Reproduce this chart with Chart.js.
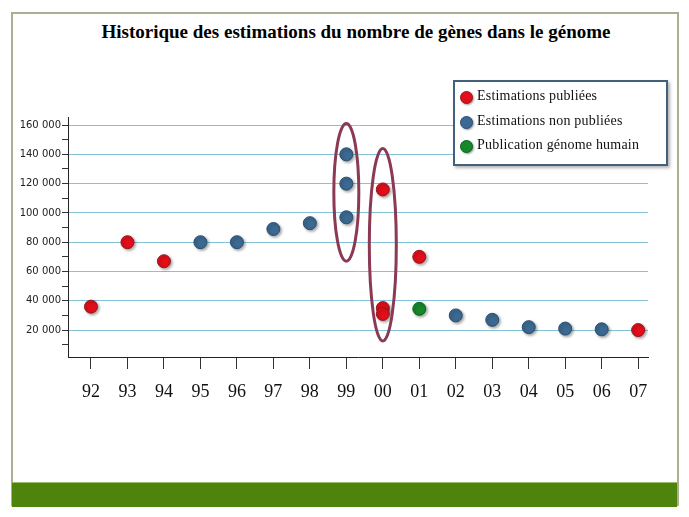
<!DOCTYPE html>
<html lang="fr">
<head>
<meta charset="utf-8">
<title>Historique des estimations</title>
<script src="https://cdn.jsdelivr.net/npm/chart.js@4.4.1/dist/chart.umd.min.js"></script>
<style>
  html, body { margin: 0; padding: 0; background: #fff; }
  #page { position: relative; width: 689px; height: 517px; overflow: hidden; }
  #frame { position: absolute; left: 11px; top: 12px; width: 664px; height: 492px;
           border: 2px solid #aab08f; border-bottom: none; }
  #bande { position: absolute; left: 12px; top: 482px; width: 665px; height: 24px;
           background: #4f840c; border-top: 1px solid #9cbc6a; }
  #titre { position: absolute; left: 40px; top: 21px; width: 632px; text-align: center;
           font: bold 19px "Liberation Serif", "Times New Roman", serif; color: #000; }
  canvas { position: absolute; left: 0; top: 0; }
  #legende { position: absolute; left: 453px; top: 80px; width: 211px; height: 82px;
             border: 2px solid #44617b; background: #fff;
             box-shadow: 2px 2px 3px rgba(0,0,0,0.3); }
  .item { position: absolute; left: 22px; font: 14px "Liberation Serif", serif; color: #111;
          letter-spacing: 0.2px; white-space: nowrap; }
  .puce { position: absolute; left: -17px; top: 3px; width: 11px; height: 11px; border-radius: 50%;
          border: 1px solid; box-shadow: 1px 1px 2px rgba(0,0,0,0.4); }
</style>
</head>
<body>
<div id="page">
  <div id="frame"></div>
  <div id="bande"></div>
  <div id="titre">Historique des estimations du nombre de gènes dans le génome</div>
  <canvas id="graphe" width="689" height="517"></canvas>
  <div id="legende"></div>
</div>
<script>
// années affichées sur l'axe horizontal
const annees = ['92','93','94','95','96','97','98','99','00','01','02','03','04','05','06','07'];

// estimations publiées (rouge)
const publieesAnnees = ['92','93','94','00','00','00','01','07'];
const publieesValeurs = [36000, 80000, 67000, 116000, 35000, 31000, 70000, 20000];

// estimations non publiées (bleu)
const nonPublieesAnnees = ['95','96','97','98','99','99','99','02','03','04','05','06'];
const nonPublieesValeurs = [80000, 80000, 89000, 93000, 140000, 120000, 97000, 30000, 27000, 22000, 21000, 20500];

// publication du génome humain (vert)
const genomeAnnees = ['01'];
const genomeValeurs = [34500];

// graduations de l'axe vertical
const graduationsY = [10000, 20000, 30000, 40000, 50000, 60000, 70000, 80000,
                      90000, 100000, 110000, 120000, 130000, 140000, 150000, 160000];

// ellipses de mise en évidence
const ellipseAnnees = ['99', '00'];
const ellipseHaut = [161000, 144000];
const ellipseBas = [67000, 12500];

function points(ans, vals) {
    return ans.map((a, i) => ({ x: annees.indexOf(a), y: vals[i] }));
}

function formatNombre(v) {
    return String(v).replace(/\B(?=(\d{3})+(?!\d))/g, ' ');
}

const decor = {
    id: 'decor',
    beforeDatasetsDraw(chart) {
        const c = chart.ctx;
        c.save();
        c.shadowColor = 'rgba(0,0,0,0.35)';
        c.shadowBlur = 3;
        c.shadowOffsetX = 1.5;
        c.shadowOffsetY = 1.5;
    },
    afterDatasetsDraw(chart) {
        const c = chart.ctx;
        c.restore();
        const sx = chart.scales.x, sy = chart.scales.y;
        c.save();
        c.strokeStyle = '#8a3a52';
        c.lineWidth = 3;
        ellipseAnnees.forEach((a, i) => {
            const cx = sx.getPixelForValue(annees.indexOf(a));
            const top = sy.getPixelForValue(ellipseHaut[i]);
            const bot = sy.getPixelForValue(ellipseBas[i]);
            c.beginPath();
            c.ellipse(cx, (top + bot) / 2, 12.5 + i, (bot - top) / 2, 0, 0, Math.PI * 2);
            c.stroke();
        });
        c.restore();
    }
};

const chart = new Chart(document.getElementById('graphe'), {
    type: 'scatter',
    data: {
        datasets: [{
            label: 'Estimations publiées',
            data: points(publieesAnnees, publieesValeurs),
            backgroundColor: '#e20e19',
            borderColor: '#94191f'
        }, {
            label: 'Estimations non publiées',
            data: points(nonPublieesAnnees, nonPublieesValeurs),
            backgroundColor: '#3c6991',
            borderColor: '#2a4f70'
        }, {
            label: 'Publication génome humain',
            data: points(genomeAnnees, genomeValeurs),
            backgroundColor: '#14882b',
            borderColor: '#0d6420'
        }]
    },
    options: {
        responsive: false,
        animation: false,
        layout: { padding: { left: 12, right: 41, top: 117, bottom: 100 } },
        elements: { point: { radius: 6.5, borderWidth: 1, hoverRadius: 6.5 } },
        plugins: {
            legend: { display: false },
            tooltip: { enabled: false }
        },
        scales: {
            x: {
                type: 'linear',
                min: -0.63,
                max: 15.27,
                afterBuildTicks: (axis) => { axis.ticks = annees.map((_, i) => ({ value: i })); },
                afterFit: (axis) => { axis.height = 60; },
                grid: { drawOnChartArea: false, tickLength: 12, tickColor: '#333' },
                border: { color: '#222', width: 1 },
                ticks: {
                    padding: 12,
                    color: '#111',
                    font: { family: '"Liberation Serif", serif', size: 18 },
                    callback: (v) => annees[v]
                }
            },
            y: {
                min: 1600,
                max: 165500,
                afterBuildTicks: (axis) => { axis.ticks = graduationsY.map(v => ({ value: v })); },
                afterFit: (axis) => { axis.width = 56; },
                grid: {
                    tickLength: 6,
                    tickColor: '#333',
                    color: (ctx) => ctx.tick && ctx.tick.value % 20000 === 0 ? '#84c3da' : 'rgba(0,0,0,0)'
                },
                border: { color: '#222', width: 1 },
                ticks: {
                    padding: 1,
                    color: '#222',
                    font: { family: '"DejaVu Sans", sans-serif', size: 10 },
                    callback: (v) => v % 20000 === 0 ? formatNombre(v) : ''
                }
            }
        }
    },
    plugins: [decor]
});

// légende en encadré, construite à partir des séries
const legende = document.getElementById('legende');
chart.data.datasets.forEach((ds, i) => {
    const item = document.createElement('div');
    item.className = 'item';
    item.style.top = (6 + i * 24.5) + 'px';
    const puce = document.createElement('span');
    puce.className = 'puce';
    puce.style.background = ds.backgroundColor;
    puce.style.borderColor = ds.borderColor;
    item.appendChild(puce);
    item.appendChild(document.createTextNode(ds.label));
    legende.appendChild(item);
});
</script>
</body>
</html>
